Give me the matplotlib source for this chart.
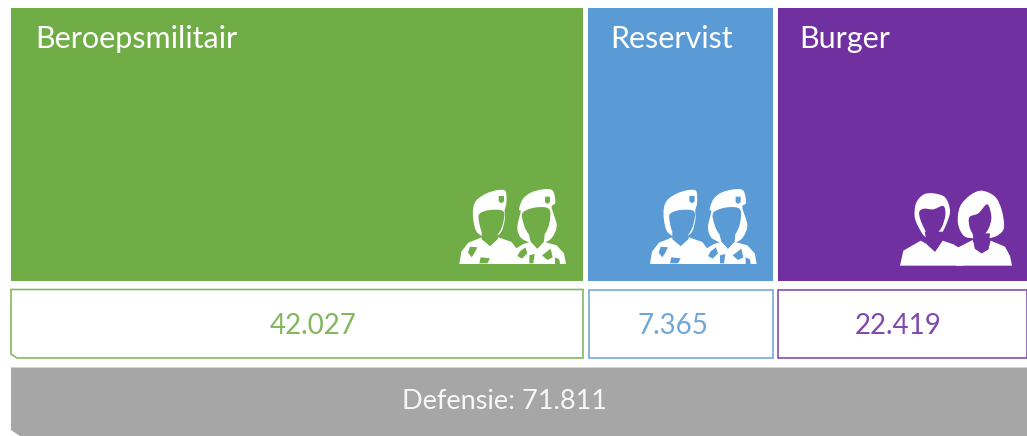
import matplotlib
matplotlib.use("Agg")
import matplotlib.pyplot as plt
from matplotlib.patches import PathPatch, Rectangle, Polygon
from matplotlib.path import Path

# ---- data ----
categories = ["Beroepsmilitair", "Reservist", "Burger"]
values = ["42.027", "7.365", "22.419"]
total_label = "Defensie: 71.811"
colors = ["#70AD47", "#5B9BD5", "#7030A0"]
grey = "#A6A6A6"

# ---- layout (pixels) ----
W, H = 1027, 436
top_x = [(11, 583), (588, 773), (778, 1027)]
box_x = [(11, 583), (589, 773), (778, 1027)]
title_x = [35, 610, 799]
value_cx = [313, 673, 898]
FONT = "Lato"

fig = plt.figure(figsize=(W / 100, H / 100), dpi=100)
ax = fig.add_axes([0, 0, 1, 1])
ax.set_xlim(0, W)
ax.set_ylim(H, 0)
ax.axis("off")


def smooth_path(pts):
    """closed Catmull-Rom curve through all the points"""
    n = len(pts)
    verts = [pts[0]]
    codes = [Path.MOVETO]
    for i in range(n):
        p0, p1, p2, p3 = pts[i - 1], pts[i], pts[(i + 1) % n], pts[(i + 2) % n]
        c1 = (p1[0] + (p2[0] - p0[0]) / 6, p1[1] + (p2[1] - p0[1]) / 6)
        c2 = (p2[0] - (p3[0] - p1[0]) / 6, p2[1] - (p3[1] - p1[1]) / 6)
        verts += [c1, c2, p2]
        codes += [Path.CURVE4] * 3
    return Path(verts, codes)


def z(pts, ox, oy):
    """zoomed-crop coordinates (3x) to figure pixels"""
    return [(ox + x / 3, oy + y / 3) for x, y in pts]


def blob(pts, ox, oy, c, z_=3):
    ax.add_patch(PathPatch(smooth_path(z(pts, ox, oy)), fc=c, ec="none", zorder=z_))


def poly(pts, ox, oy, c, z_=3):
    ax.add_patch(Polygon(z(pts, ox, oy), closed=True, fc=c, ec="none", zorder=z_))


def soldiers(ox, oy, bg):
    # man
    poly([(58, 282), (64, 245), (85, 218), (125, 202), (150, 228), (175, 202),
          (215, 216), (240, 250), (240, 282)], ox, oy, "white", 3)
    blob([(100, 150), (100, 112), (112, 88), (140, 70), (175, 60), (197, 64), (199, 100),
          (194, 120), (194, 150), (182, 188), (150, 205), (112, 188)], ox, oy, "white", 3)
    blob([(118, 132), (150, 120), (190, 124), (189, 160), (174, 192), (150, 202),
          (128, 190), (118, 160)], ox, oy, bg, 4)
    poly([(125, 185), (173, 185), (173, 208), (150, 228), (125, 208)], ox, oy, bg, 4)
    poly([(176, 78), (192, 78), (192, 94), (184, 100), (176, 94)], ox, oy, bg, 4)
    poly([(90, 230), (112, 232), (104, 248), (95, 262), (84, 248)], ox, oy, bg, 4)
    poly([(122, 262), (150, 265), (142, 280), (118, 280)], ox, oy, bg, 4)
    # woman
    poly([(214, 282), (220, 240), (250, 222), (275, 215), (292, 236), (310, 215),
          (350, 226), (372, 250), (378, 282)], ox, oy, "white", 5)
    blob([(232, 170), (242, 125), (237, 118), (248, 88), (272, 68), (310, 58), (338, 62),
          (346, 98), (335, 112), (350, 165), (338, 200), (320, 215), (290, 225), (262, 215),
          (240, 200)], ox, oy, "white", 5)
    blob([(248, 128), (290, 112), (328, 118), (328, 160), (314, 192), (290, 208),
          (266, 192), (252, 165)], ox, oy, bg, 6)
    poly([(266, 190), (314, 190), (312, 215), (292, 236), (272, 215)], ox, oy, bg, 6)
    poly([(315, 80), (330, 80), (330, 96), (322, 102), (315, 96)], ox, oy, bg, 6)
    poly([(240, 244), (256, 232), (262, 250), (246, 266), (232, 258)], ox, oy, bg, 6)
    poly([(306, 256), (332, 236), (338, 262), (322, 270)], ox, oy, bg, 6)
    poly([(345, 262), (358, 268), (360, 282), (345, 282)], ox, oy, bg, 6)
    poly([(268, 256), (284, 252), (280, 280), (268, 280)], ox, oy, bg, 6)


def civilians(ox, oy, bg):
    # man
    poly([(30, 287), (40, 242), (92, 212), (115, 225), (135, 245), (158, 212), (205, 228),
          (220, 287)], ox, oy, "white", 3)
    blob([(74, 140), (78, 100), (100, 74), (130, 70), (165, 82), (180, 120), (172, 155),
          (155, 190), (135, 205), (105, 200), (85, 170)], ox, oy, "white", 3)
    blob([(88, 125), (102, 116), (130, 118), (160, 108), (166, 135), (155, 172), (135, 195),
          (115, 195), (100, 170), (90, 145)], ox, oy, bg, 4)
    poly([(104, 185), (158, 185), (155, 215), (135, 245), (112, 225)], ox, oy, bg, 4)
    # gap between the two figures
    poly([(178, 204), (215, 218), (205, 232), (195, 226)], ox, oy, bg, 4)
    # woman
    poly([(198, 287), (205, 232), (248, 210), (256, 236), (275, 250), (295, 238), (302, 212),
          (345, 230), (360, 258), (366, 287)], ox, oy, "white", 5)
    blob([(204, 160), (210, 110), (240, 76), (275, 62), (315, 80), (335, 120), (342, 172),
          (325, 195), (295, 205), (255, 205), (222, 198)], ox, oy, "white", 5)
    blob([(238, 142), (265, 130), (292, 103), (304, 140), (296, 175), (276, 200), (256, 200),
          (240, 175)], ox, oy, bg, 6)
    poly([(248, 190), (300, 190), (295, 238), (275, 250), (254, 236)], ox, oy, bg, 6)


for i, (cat, val, col) in enumerate(zip(categories, values, colors)):
    x0, x1 = top_x[i]
    ax.add_patch(Rectangle((x0, 8), x1 - x0, 273, fc=col, ec="none", zorder=1))
    ax.text(title_x[i], 39, cat, color="white", fontsize=22, family=FONT,
            va="center", ha="left", zorder=7)
    bx0, bx1 = box_x[i]
    if i == 0:
        ax.add_patch(Polygon([(bx0, 289.5), (bx1, 289.5), (bx1, 358), (bx0 + 6, 358),
                              (bx0, 354)], closed=True, fc="white", ec=col,
                             lw=1.2, alpha=0.85, zorder=2))
    else:
        ax.add_patch(Rectangle((bx0, 289.5), bx1 - bx0, 68.5, fc="white", ec=col,
                               lw=1.2, alpha=0.85, zorder=2))
    ax.text(value_cx[i], 326, val, color=col, fontsize=20, family=FONT, alpha=0.88,
            va="center", ha="center", zorder=3)

soldiers(440, 170, colors[0])
soldiers(440 + 572 / 3, 170, colors[1])
civilians(890, 170, colors[2])

ax.add_patch(Polygon([(11, 367.5), (1027, 367.5), (1027, 436), (20, 436), (11, 430)],
                     closed=True, fc=grey, ec="none", zorder=1))
ax.text(504, 401, total_label, color="white", fontsize=19.5, family=FONT, alpha=0.92,
        va="center", ha="center", zorder=3)

fig.savefig("out.png", dpi=100, facecolor="white")
